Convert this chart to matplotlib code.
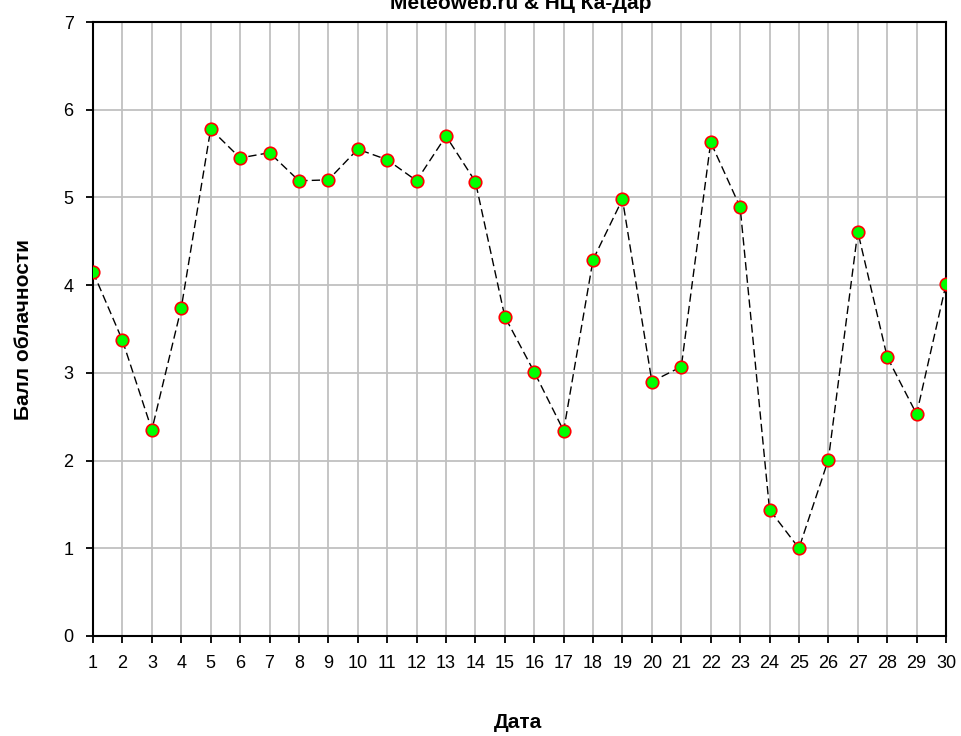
import matplotlib.pyplot as plt
import numpy as np

plt.rcParams["font.family"] = ["Liberation Sans", "DejaVu Sans"]

days = np.arange(1, 31)
cloud = [4.15, 3.37, 2.35, 3.74, 5.78, 5.45, 5.51, 5.19, 5.20, 5.55,
         5.43, 5.19, 5.70, 5.18, 3.64, 3.01, 2.34, 4.29, 4.98, 2.90,
         3.07, 5.63, 4.89, 1.44, 1.00, 2.01, 4.61, 3.18, 2.53, 4.01]
yticks = list(range(0, 8))

fig = plt.figure(figsize=(9.61, 7.36), dpi=100)
ax = fig.add_axes([0.0968, 0.1359, 0.8876, 0.8342])

ax.plot(days, cloud, color="black", linestyle=(0, (6, 3)), linewidth=1,
        marker="o", markersize=9, markerfacecolor="#00ff00",
        markeredgecolor="#ff0000", markeredgewidth=1.2, zorder=3)

ax.set_xlim(1, 30)
ax.set_ylim(0, 7)
ax.set_xticks(days)
ax.set_yticks(yticks)
ax.grid(True, color="#c0c0c0", linewidth=1.3)
ax.set_axisbelow(True)
for s in ax.spines.values():
    s.set_linewidth(1.5)
ax.tick_params(direction="out", length=5, width=1.3, labelsize=13, pad=9)

# axis titles placed in figure coordinates
fig.text(0.024, 0.552, "Балл облачности", rotation=90, ha="center",
         va="center", fontsize=15, fontweight="bold")
fig.text(0.539, 0.019, "Дата", ha="center", va="center",
         fontsize=15, fontweight="bold")
fig.text(0.542, 0.995, "Meteoweb.ru & НЦ Ка-Дар", ha="center", va="center",
         fontsize=15, fontweight="bold")

fig.savefig("out.png", dpi=100)
